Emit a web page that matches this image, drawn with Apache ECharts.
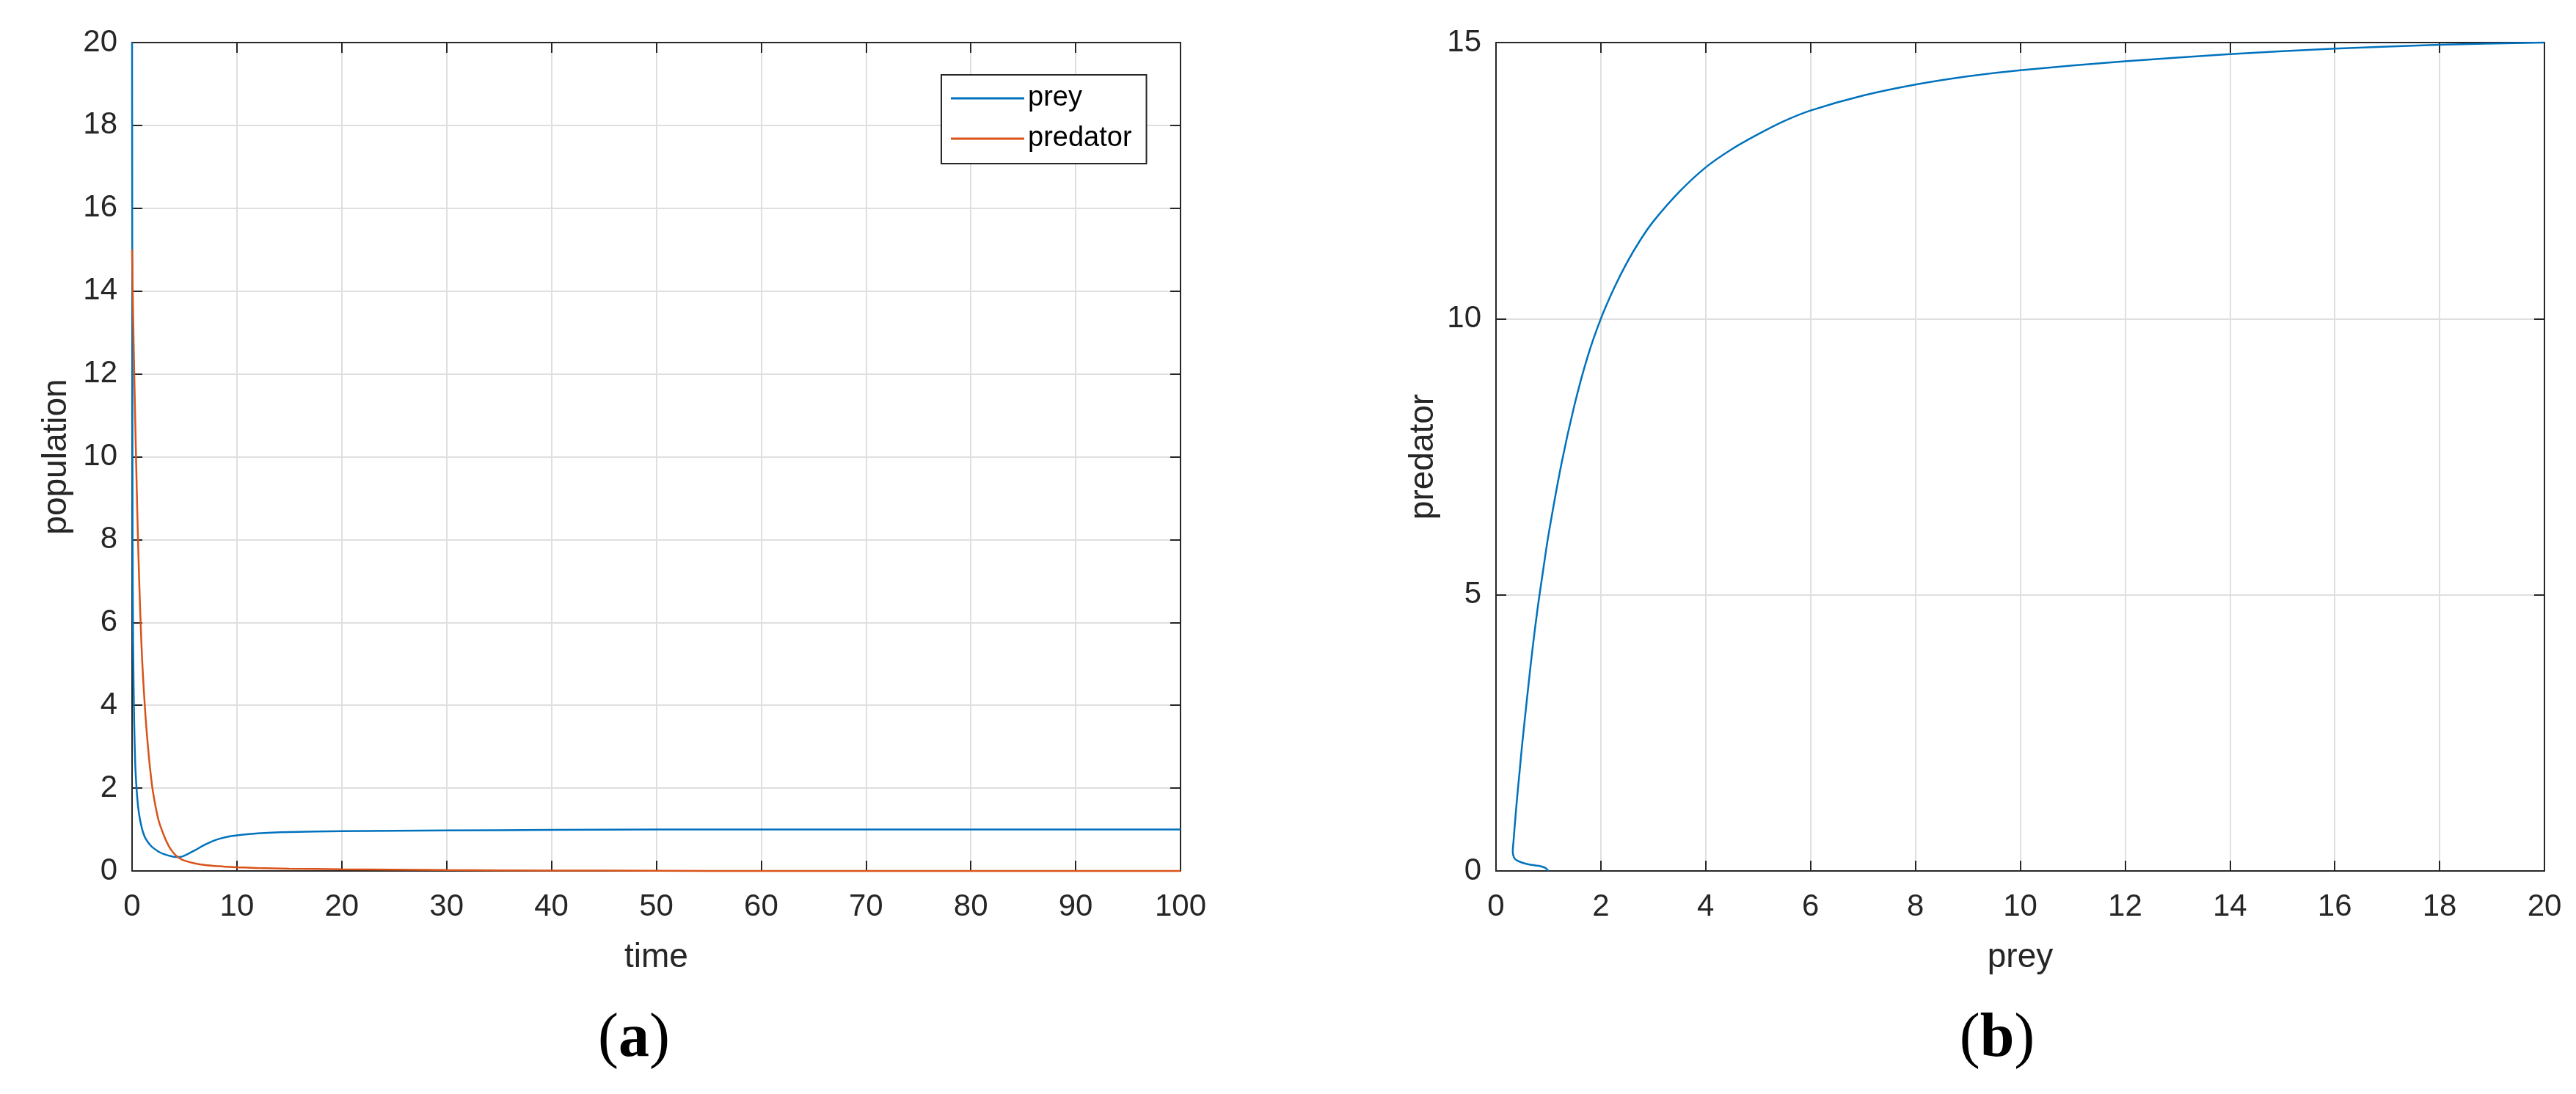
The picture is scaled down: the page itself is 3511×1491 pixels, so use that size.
<!DOCTYPE html>
<html>
<head>
<meta charset="utf-8">
<script src="https://cdn.jsdelivr.net/npm/echarts@6/dist/echarts.min.js"></script>
<style>
  html, body { margin: 0; padding: 0; background: #fff; }
  #chart { width: 3511px; height: 1491px; }
</style>
</head>
<body>
<div id="chart"></div>
<script>
// (a) time series
const timePoints = [0, 0.05, 0.1, 0.2, 0.3, 0.4, 0.5, 0.6, 0.75, 0.9, 1, 1.25, 1.5, 1.75, 2, 2.5, 3, 3.5, 4, 4.5, 5, 6, 7, 8, 9, 10, 12, 15, 20, 25, 30, 40, 50, 60, 70, 80, 90, 100]
const preyValues = [20, 8, 5.5, 3.6, 2.6, 2.1, 1.75, 1.5, 1.25, 1.07, 0.97, 0.8, 0.7, 0.62, 0.56, 0.47, 0.41, 0.37, 0.34, 0.335, 0.37, 0.5, 0.64, 0.75, 0.82, 0.86, 0.91, 0.94, 0.96, 0.97, 0.98, 0.99, 1, 1, 1, 1, 1, 1]
const predatorValues = [15, 14.2, 13.4, 12.1, 10.9, 9.75, 8.65, 7.7, 6.45, 5.45, 4.9, 3.85, 3.05, 2.4, 1.9, 1.25, 0.88, 0.6, 0.42, 0.31, 0.25, 0.18, 0.14, 0.12, 0.1, 0.09, 0.07, 0.055, 0.04, 0.03, 0.02, 0.01, 0.005, 0, 0, 0, 0, 0]

// (b) phase portrait, prey vs predator
const phasePrey = [20, 18, 16, 14, 12, 10, 9, 8, 7, 6, 5.5, 5, 4.5, 4, 3.5, 3, 2.75, 2.5, 2.25, 2, 1.75, 1.5, 1.25, 1, 0.9, 0.8, 0.7, 0.6, 0.5, 0.45, 0.4, 0.36, 0.335, 0.32, 0.33, 0.36, 0.42, 0.5, 0.62, 0.75, 0.87, 0.95, 1]
const phasePredator = [15, 14.96, 14.89, 14.79, 14.66, 14.5, 14.39, 14.24, 14.04, 13.77, 13.58, 13.34, 13.07, 12.74, 12.3, 11.76, 11.42, 11.02, 10.55, 10, 9.32, 8.45, 7.38, 6.08, 5.45, 4.8, 4.05, 3.2, 2.3, 1.8, 1.3, 0.85, 0.55, 0.36, 0.28, 0.22, 0.18, 0.15, 0.12, 0.1, 0.08, 0.05, 0]

const leftTicks = { x: [0, 100, 10], y: [0, 20, 2] }
const rightTicks = { x: [0, 20, 2], y: [0, 15, 5] }

const INK = '#262626'
const GRIDLINE = '#dfdfdf'
const SANS = '"Liberation Sans", Arial, Helvetica, sans-serif'
const SERIF = '"Liberation Serif", "DejaVu Serif", serif'
const BLUE = '#0072BD'
const ORANGE = '#D95319'

function mainAxis(gridIndex, range, position, name, nameGap, isY) {
  return {
    gridIndex,
    type: 'value',
    position,
    min: range[0],
    max: range[1],
    interval: range[2],
    name,
    nameLocation: 'middle',
    nameGap,
    nameTextStyle: { fontSize: 46, color: INK, fontFamily: SANS },
    axisLine: { show: true, onZero: false, lineStyle: { color: INK, width: 2 } },
    axisTick: { show: true, inside: true, length: 14, lineStyle: { color: INK, width: 2 } },
    axisLabel: { fontSize: 42, color: INK, fontFamily: SANS, margin: isY ? 20 : 28 },
    splitLine: { show: true, lineStyle: { color: GRIDLINE, width: 2 } },
  }
}

// top / right edges of the box, ticks only
function boxAxis(gridIndex, range, position) {
  return {
    gridIndex,
    type: 'value',
    position,
    min: range[0],
    max: range[1],
    interval: range[2],
    axisLine: { show: true, onZero: false, lineStyle: { color: INK, width: 2 } },
    axisTick: { show: true, inside: true, length: 14, lineStyle: { color: INK, width: 2 } },
    axisLabel: { show: false },
    splitLine: { show: false },
  }
}

function caption(letter, x) {
  return {
    type: 'text',
    x,
    y: 1417,
    style: {
      text: `{p|(}{b|${letter}}{p|)}`,
      align: 'center',
      verticalAlign: 'middle',
      textAlign: 'center',
      textVerticalAlign: 'middle',
      rich: {
        p: { fontSize: 84, fontFamily: SERIF, fill: '#000', color: '#000' },
        b: { fontSize: 84, fontWeight: 'bold', fontFamily: SERIF, fill: '#000', color: '#000' },
      },
    },
  }
}

const chart = echarts.init(document.getElementById('chart'), null, { renderer: 'canvas' })

chart.setOption({
  backgroundColor: '#fff',
  animation: false,
  grid: [
    { left: 180, top: 58, width: 1429, height: 1129 },
    { left: 2039, top: 58, width: 1429, height: 1129 },
  ],
  xAxis: [
    mainAxis(0, leftTicks.x, 'bottom', 'time', 95, false),
    boxAxis(0, leftTicks.x, 'top'),
    mainAxis(1, rightTicks.x, 'bottom', 'prey', 95, false),
    boxAxis(1, rightTicks.x, 'top'),
  ],
  yAxis: [
    mainAxis(0, leftTicks.y, 'left', 'population', 80, true),
    boxAxis(0, leftTicks.y, 'right'),
    mainAxis(1, rightTicks.y, 'left', 'predator', 76, true),
    boxAxis(1, rightTicks.y, 'right'),
  ],
  legend: {
    data: ['prey', 'predator'],
    orient: 'vertical',
    left: 1283,
    top: 102,
    padding: [10, 20, 12, 13],
    itemGap: 11,
    itemWidth: 100,
    itemHeight: 3,
    icon: 'rect',
    backgroundColor: '#fff',
    borderColor: INK,
    borderWidth: 2,
    borderRadius: 0,
    textStyle: { fontSize: 38, color: '#000', fontFamily: SANS, lineHeight: 44 },
  },
  series: [
    {
      name: 'prey',
      type: 'line',
      xAxisIndex: 0,
      yAxisIndex: 0,
      data: timePoints.map((t, i) => [t, preyValues[i]]),
      showSymbol: false,
      smooth: 0.3,
      clip: false,
      lineStyle: { color: BLUE, width: 2.5 },
      itemStyle: { color: BLUE },
    },
    {
      name: 'predator',
      type: 'line',
      xAxisIndex: 0,
      yAxisIndex: 0,
      data: timePoints.map((t, i) => [t, predatorValues[i]]),
      showSymbol: false,
      smooth: 0.3,
      clip: false,
      lineStyle: { color: ORANGE, width: 2.5 },
      itemStyle: { color: ORANGE },
    },
    {
      name: 'phase',
      type: 'line',
      xAxisIndex: 2,
      yAxisIndex: 2,
      data: phasePrey.map((x, i) => [x, phasePredator[i]]),
      showSymbol: false,
      smooth: 0.3,
      clip: false,
      lineStyle: { color: BLUE, width: 2.5 },
      itemStyle: { color: BLUE },
    },
  ],
  graphic: [caption('a', 864), caption('b', 2722)],
})
</script>
</body>
</html>
